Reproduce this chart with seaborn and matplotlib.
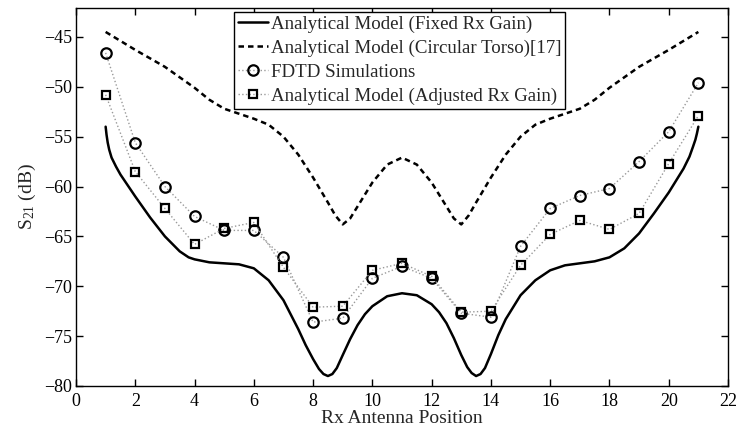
import numpy as np
import pandas as pd
import seaborn as sns
import matplotlib
matplotlib.use("Agg")
import matplotlib.pyplot as plt

# ---------------- data ----------------
positions = list(range(1, 22))
fdtd = [-46.6, -55.6, -60.0, -63.0, -64.4, -64.4, -67.1, -73.6, -73.2, -69.2, -68.0,
        -69.2, -72.7, -73.1, -66.0, -62.2, -60.9, -60.2, -57.5, -54.5, -49.6]
adjusted = [-50.8, -58.5, -62.2, -65.8, -64.2, -63.6, -68.1, -72.1, -72.0, -68.4, -67.7,
            -69.0, -72.6, -72.5, -67.9, -64.8, -63.4, -64.3, -62.7, -57.7, -52.9]

fixed_x = [1.0, 1.03, 1.07, 1.12, 1.2, 1.35, 1.5, 1.75, 2.0, 2.5, 3.0, 3.5, 3.8, 4.0, 4.5,
           5.0, 5.5, 6.0, 6.5, 7.0, 7.5, 7.75, 8.0, 8.2, 8.35, 8.5, 8.65, 8.8, 9.0,
           9.25, 9.5, 9.75, 10.0, 10.5, 11.0, 11.5, 12.0, 12.25, 12.5, 12.75, 13.0,
           13.2, 13.35, 13.5, 13.65, 13.8, 14.0, 14.25, 14.5, 15.0, 15.5, 16.0, 16.5,
           17.0, 17.5, 18.0, 18.5, 19.0, 19.5, 20.0, 20.25, 20.5, 20.7, 20.82, 20.9,
           20.95, 21.0]
fixed_y = [-54.0, -54.8, -55.6, -56.3, -57.1, -58.0, -58.8, -59.9, -61.0, -63.1, -65.0,
           -66.5, -67.1, -67.3, -67.6, -67.7, -67.8, -68.2, -69.4, -71.4, -74.3, -75.9,
           -77.3, -78.3, -78.8, -79.0, -78.8, -78.2, -76.9, -75.3, -73.9, -72.8, -72.0,
           -71.0, -70.7, -70.9, -71.8, -72.6, -73.7, -75.2, -76.9, -78.1, -78.7, -79.0,
           -78.8, -78.2, -76.8, -74.9, -73.3, -70.9, -69.4, -68.4, -67.9, -67.7, -67.5,
           -67.1, -66.2, -64.7, -62.7, -60.6, -59.4, -58.2, -57.0, -56.0, -55.3, -54.7,
           -54.0]

torso_x = [1.0, 2.0, 3.0, 4.0, 4.5, 5.0, 5.5, 6.0, 6.5, 7.0, 7.5, 8.0, 8.5, 8.75, 9.0,
           9.25, 9.5, 10.0, 10.5, 11.0, 11.5, 12.0, 12.5, 12.75, 13.0, 13.25, 13.5, 14.0,
           14.5, 15.0, 15.5, 16.0, 16.5, 17.0, 17.5, 18.0, 19.0, 20.0, 21.0]
torso_y = [-44.5, -46.3, -48.0, -50.1, -51.3, -52.2, -52.7, -53.2, -53.8, -55.0, -56.8,
           -59.1, -61.6, -62.9, -63.8, -63.2, -62.0, -59.6, -57.8, -57.1, -57.8, -59.6,
           -62.0, -63.2, -63.8, -62.9, -61.6, -59.1, -56.8, -55.0, -53.8, -53.2, -52.7,
           -52.2, -51.3, -50.1, -48.0, -46.3, -44.5]

labels = ["Analytical Model (Fixed Rx Gain)",
          "Analytical Model (Circular Torso)[17]",
          "FDTD Simulations",
          "Analytical Model (Adjusted Rx Gain)"]
xticks = list(range(0, 23, 2))
yticks = list(range(-80, -44, 5))

# ---------------- style ----------------
sns.set_style("ticks")
plt.rcParams["font.family"] = ["Liberation Serif", "DejaVu Serif"]
plt.rcParams["mathtext.fontset"] = "custom"
plt.rcParams["mathtext.rm"] = "Liberation Serif"
plt.rcParams["mathtext.it"] = "Liberation Serif:italic"
plt.rcParams["axes.linewidth"] = 1.0
plt.rcParams["axes.edgecolor"] = "black"

fig = plt.figure(figsize=(7.39, 4.29), dpi=100)
ax = fig.add_axes([76 / 739, 1 - 386 / 429, (728 - 76) / 739, (386 - 8) / 429])

sns.lineplot(x=fixed_x, y=fixed_y, ax=ax, color="black", linewidth=1.8,
             label=labels[0], sort=False)
sns.lineplot(x=torso_x, y=torso_y, ax=ax, color="black", linewidth=1.8,
             linestyle=(0, (2.2, 1.6)), label=labels[1], sort=False)
sns.lineplot(x=positions, y=fdtd, ax=ax, color="#9a9a9a", linewidth=1.0,
             linestyle=":", marker="o", markersize=7.5, markeredgecolor="black",
             markerfacecolor="none", markeredgewidth=1.6, label=labels[2], sort=False)
sns.lineplot(x=positions, y=adjusted, ax=ax, color="#9a9a9a", linewidth=1.0,
             linestyle=":", marker="s", markersize=6.0, markeredgecolor="black",
             markerfacecolor="none", markeredgewidth=1.6, label=labels[3], sort=False)

ax.set_xlim(0, 22)
ax.set_ylim(-80, -42.1)
ax.set_xticks(xticks)
ax.set_yticks(yticks)
ax.set_xticklabels([str(t) for t in xticks])
ax.set_yticklabels(["\u2212%d" % abs(t) for t in yticks])
ax.tick_params(direction="in", length=5, width=1, top=True, right=True,
               labelsize=13, colors="black")
ax.tick_params(axis="x", pad=5)
ax.tick_params(axis="y", pad=3)
for s in ax.spines.values():
    s.set_visible(True)
    s.set_color("black")

ax.set_xlabel("Rx Antenna Position", fontsize=14, labelpad=0)
ax.set_ylabel("S$_{21}$ (dB)", fontsize=14, labelpad=4)

leg = ax.legend(loc="upper center", bbox_to_anchor=(0.496, 0.99), fontsize=13.6,
                frameon=True, fancybox=False, framealpha=1, edgecolor="black",
                handlelength=1.6, handletextpad=0.15, labelspacing=0.36,
                borderpad=0.2, borderaxespad=0.0, numpoints=1)
leg.get_frame().set_linewidth(1.0)

fig.savefig("out.png", dpi=100)
